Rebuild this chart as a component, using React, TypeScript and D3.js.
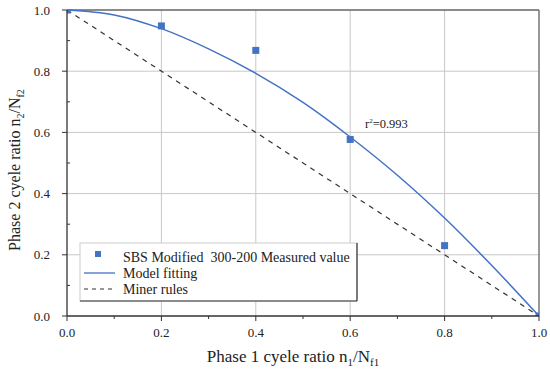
import React from "react";
import * as d3 from "d3";

const measuredX = [0, 0.2, 0.4, 0.6, 0.8, 1.0];
const measuredY = [1.0, 0.948, 0.868, 0.577, 0.23, 0.0];
const fitX = [0, 0.1, 0.2, 0.3, 0.4, 0.5, 0.6, 0.7, 0.8, 0.9, 1.0];
const fitY = [1.0, 0.984, 0.939, 0.873, 0.793, 0.698, 0.585, 0.46, 0.32, 0.165, 0.0];
const minerX = [0, 1];
const minerY = [1, 0];
const majorTicks = [0, 0.2, 0.4, 0.6, 0.8, 1.0];
const minorTicks = [0.1, 0.3, 0.5, 0.7, 0.9];
const legendLabels = ["SBS Modified  300-200 Measured value", "Model fitting", "Miner rules"];

export default function App() {
  const W = 550, H = 373;
  const L = 67, R = 539, T = 10, B = 316;
  const x = d3.scaleLinear().domain([0, 1]).range([L, R]);
  const y = d3.scaleLinear().domain([0, 1]).range([B, T]);
  const blue = "#4472C4";
  const font = "'Liberation Serif', 'DejaVu Serif', 'Times New Roman', Times, serif";
  const fitLine = d3.line<number>().x((_, i) => x(fitX[i])).y((d) => y(d)).curve(d3.curveCatmullRom);
  const minerLine = d3.line<number>().x((_, i) => x(minerX[i])).y((d) => y(d));
  const tp = { fontFamily: font, fill: "#222" } as const;
  return (
    <svg width={W} height={H} style={{ position: "absolute", left: 0, top: 0 }}>
      <defs>
        <clipPath id="plot">
          <rect x={L} y={T} width={R - L} height={B - T} />
        </clipPath>
      </defs>
      <rect width={W} height={H} fill="#fff" />
      {majorTicks.slice(1).map((t) => (
        <line key={"gx" + t} x1={x(t)} x2={x(t)} y1={T} y2={B} stroke="#c8c8c8" strokeWidth={1} />
      ))}
      {majorTicks.slice(1).map((t) => (
        <line key={"gy" + t} x1={L} x2={R} y1={y(t)} y2={y(t)} stroke="#c8c8c8" strokeWidth={1} />
      ))}
      <line x1={L} x2={R} y1={T} y2={T} stroke="#333" strokeWidth={1.2} />
      <line x1={R} x2={R} y1={T} y2={B} stroke="#666" strokeWidth={1.2} />
      <path d={minerLine(minerY) || ""} fill="none" stroke="#333" strokeWidth={1.2} strokeDasharray="5,5" />
      <path d={fitLine(fitY) || ""} fill="none" stroke={blue} strokeWidth={1.5} />
      <g clipPath="url(#plot)">
        {measuredY.map((v, i) => (
          <rect key={"p" + i} x={x(measuredX[i]) - 3.5} y={y(v) - 3.5} width={7} height={7} fill={blue} />
        ))}
      </g>
      <line x1={L} x2={L} y1={T} y2={B} stroke="#333" strokeWidth={1.3} />
      <line x1={L} x2={R} y1={B} y2={B} stroke="#333" strokeWidth={1.3} />
      {majorTicks.map((t) => (
        <g key={"ty" + t}>
          <line x1={L - 5} x2={L} y1={y(t)} y2={y(t)} stroke="#333" />
          <text x={L - 17} y={y(t) + 4.5} fontSize={13} textAnchor="end" style={tp}>{t.toFixed(1)}</text>
        </g>
      ))}
      {minorTicks.map((t) => (
        <line key={"my" + t} x1={L} x2={L + 3} y1={y(t)} y2={y(t)} stroke="#333" />
      ))}
      {majorTicks.map((t) => (
        <g key={"tx" + t}>
          <line x1={x(t)} x2={x(t)} y1={B} y2={B + 5} stroke="#333" />
          <text x={x(t)} y={B + 21} fontSize={13} textAnchor="middle" style={tp}>{t.toFixed(1)}</text>
        </g>
      ))}
      {minorTicks.map((t) => (
        <line key={"mx" + t} x1={x(t)} x2={x(t)} y1={B} y2={B + 3} stroke="#333" />
      ))}
      <text x={365} y={128} fontSize={12.5} style={tp}>
        r<tspan dy={-5} fontSize={7}>2</tspan><tspan dy={5}>=0.993</tspan>
      </text>
      <g>
        <rect x={80} y={243} width={277} height={58} fill="#fff" stroke="#ccc" />
        <line x1={357} x2={357} y1={243} y2={301} stroke="#333" strokeWidth={1.2} />
        <line x1={80} x2={357} y1={301} y2={301} stroke="#333" strokeWidth={1.2} />
        <rect x={95} y={251} width={6} height={6} fill={blue} />
        <line x1={84} x2={115} y1={273} y2={273} stroke={blue} strokeWidth={1.3} />
        <line x1={84} x2={115} y1={289} y2={289} stroke="#333" strokeWidth={1.2} strokeDasharray="4,4" />
        {legendLabels.map((l, i) => (
          <text key={l} x={123} y={262 + i * 16} fontSize={14} style={{ ...tp, whiteSpace: "pre" }}>{l}</text>
        ))}
      </g>
      <text x={293} y={362} fontSize={17} textAnchor="middle" style={tp}>
        Phase 1 cyele ratio n<tspan dy={4} fontSize={11}>1</tspan><tspan dy={-4}>/N</tspan><tspan dy={4} fontSize={11}>f1</tspan>
      </text>
      <text transform={`translate(20,170) rotate(-90)`} fontSize={16} textAnchor="middle" style={tp}>
        Phase 2 cyele ratio n<tspan dy={4} fontSize={10}>2</tspan><tspan dy={-4}>/N</tspan><tspan dy={4} fontSize={10}>f2</tspan>
      </text>
    </svg>
  );
}
